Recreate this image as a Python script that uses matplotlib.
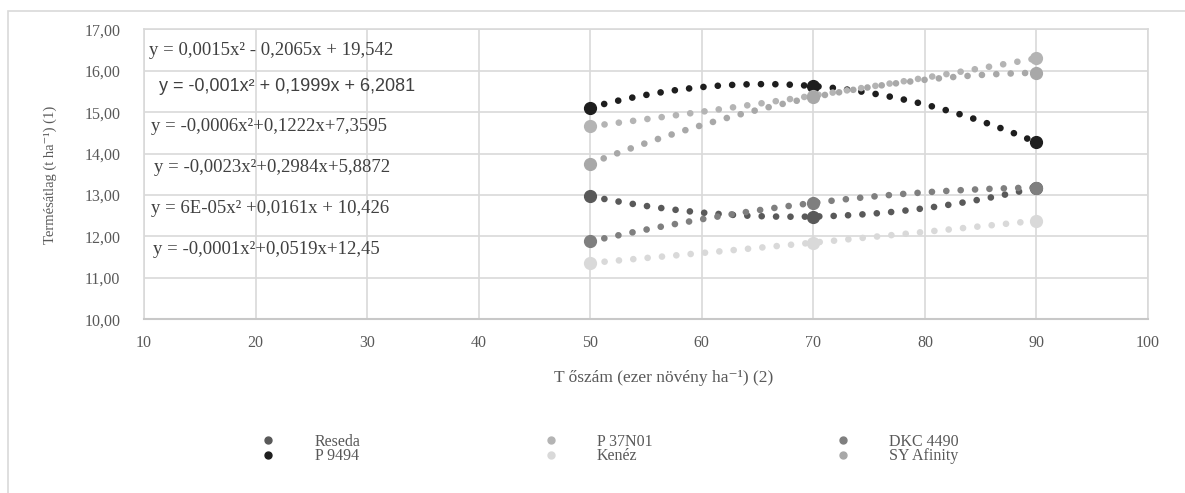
import matplotlib
matplotlib.use("Agg")
import matplotlib.pyplot as plt
import matplotlib.patches as mpatches
from matplotlib.lines import Line2D
import numpy as np

# Tőszám (ezer növény/ha) - mért pontok
tosz = [50, 70, 90]

# Termésátlag fajtánként (t/ha)
fajtak = ["Reseda", "P 9494", "P 37N01", "Kenéz", "DKC 4490", "SY Afinity"]
reseda = [12.97, 12.48, 13.18]
p9494 = [15.11, 15.63, 14.27]
p37n01 = [14.66, 15.40, 16.30]
kenez = [11.36, 11.85, 12.38]
dkc4490 = [11.88, 12.81, 13.18]
sy_afinity = [13.76, 15.36, 15.95]
ertekek = [reseda, p9494, p37n01, kenez, dkc4490, sy_afinity]

szinek = ["#595959", "#1e1e1e", "#b4b4b4", "#d9d9d9", "#7f7f7f", "#a8a8a8"]

# Trendvonal egyenletek (ahogy a diagramon szerepelnek)
egyenletek = [
    "y = 0,0015x² - 0,2065x + 19,542",
    "y = -0,001x² + 0,1999x + 6,2081",
    "y = -0,0006x²+0,1222x+7,3595",
    "y = -0,0023x²+0,2984x+5,8872",
    "y = 6E-05x² +0,0161x + 10,426",
    "y = -0,0001x²+0,0519x+12,45",
]
egy_x = [10.45, 11.35, 10.6, 10.9, 10.6, 10.85]
egy_y = [16.48, 15.62, 14.65, 13.66, 12.68, 11.69]

SERIF = ["Liberation Serif", "DejaVu Serif"]
SANS = ["Liberation Sans", "DejaVu Sans"]
SZURKE = "#595959"
RACS = "#d9d9d9"

fig = plt.figure(figsize=(11.85, 4.93), dpi=100)
W, H = 1185, 493
ax = fig.add_axes([144 / W, 1 - 319.3 / H, (1148 - 144) / W, (319.3 - 29.3) / H])

xs = np.linspace(50, 90, 400)
for nev, ys, c in zip(fajtak, ertekek, szinek):
    # másodfokú trendvonal a mért pontokra (pontozott vonal)
    coef = np.polyfit(tosz, ys, 2)
    ax.plot(xs, np.polyval(coef, xs), color=c, lw=4.8,
            ls=(0, (0.01, 2.15)), dash_capstyle="round", zorder=3)
    ax.plot(tosz, ys, "o", ms=8.5, color=c, mec=c, zorder=4)

ax.set_xlim(10, 100)
ax.set_ylim(10, 17)
ax.set_xticks(range(10, 101, 10))
ax.set_yticks(range(10, 18))
ax.set_yticklabels([f"{v:.2f}".replace(".", ",") for v in range(10, 18)])
ax.tick_params(length=0, labelsize=11.5, labelcolor=SZURKE)
ax.tick_params(axis="y", pad=17)
ax.tick_params(axis="x", pad=11)
for lab in ax.get_xticklabels() + ax.get_yticklabels():
    lab.set_family(SERIF)
ax.grid(color=RACS, lw=1.2)
ax.set_axisbelow(True)
for s in ax.spines.values():
    s.set_color(RACS)
    s.set_linewidth(1.2)
ax.spines["bottom"].set_color("#c8c8c8")
ax.spines["bottom"].set_linewidth(1.5)

for i, (t, x, y) in enumerate(zip(egyenletek, egy_x, egy_y)):
    fam = SANS if i == 1 else SERIF
    ax.text(x, y, t, family=fam, fontsize=13.5 if i != 1 else 13,
            color="#404040", va="center", ha="left", zorder=5)

fig.text(50 / W, 1 - 175 / H, "Termésátlag (t ha⁻¹) (1)", rotation=90,
         family=SERIF, fontsize=10.5, color=SZURKE, ha="center", va="center")
fig.text(664 / W, 1 - 378 / H, "T őszám (ezer növény ha⁻¹) (2)",
         family=SERIF, fontsize=12.5, color=SZURKE, ha="center", va="center")

kezelok = [Line2D([], [], marker="o", ls="none", ms=5, color=c, mec=c)
           for c in szinek]
leg = fig.legend(kezelok, fajtak, ncol=3, loc="center left",
                 bbox_to_anchor=(246 / W, 1 - 449 / H), frameon=False,
                 prop={"family": SERIF, "size": 11.5}, handlelength=1,
                 handletextpad=2.4, columnspacing=11.4, labelspacing=-0.1)
for t in leg.get_texts():
    t.set_color(SZURKE)

# a diagramterület kerete
fig.patches.append(mpatches.Rectangle((8 / W, -0.05), 1.2, 1.05 - 11 / H,
                                      transform=fig.transFigure, fill=False,
                                      ec=RACS, lw=1.2))

fig.savefig("out.png", dpi=100, facecolor="white")
